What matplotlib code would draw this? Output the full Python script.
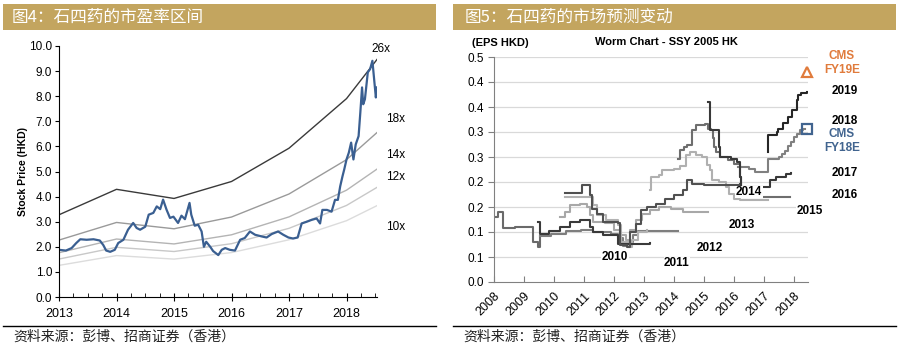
import matplotlib
matplotlib.use("Agg")
import matplotlib.pyplot as plt
from matplotlib.patches import Rectangle
from matplotlib.lines import Line2D
from matplotlib.ticker import FixedLocator, MultipleLocator, FormatStrFormatter

plt.rcParams['font.family'] = ['Liberation Sans', 'Noto Sans CJK SC', 'DejaVu Sans']

# ---------------- data: left panel ----------------
price_t = [2013.00, 2013.12, 2013.22, 2013.30, 2013.37, 2013.48, 2013.60, 2013.71, 2013.77, 2013.82,
           2013.89, 2013.97, 2014.03, 2014.12, 2014.20, 2014.29, 2014.35, 2014.41, 2014.50, 2014.56,
           2014.64, 2014.70, 2014.76, 2014.81, 2014.87, 2014.93, 2014.99, 2015.07, 2015.13, 2015.19,
           2015.27, 2015.30, 2015.36, 2015.42, 2015.48, 2015.52, 2015.56, 2015.63, 2015.68, 2015.77,
           2015.83, 2015.89, 2015.97, 2016.06, 2016.15, 2016.23, 2016.32, 2016.41, 2016.53, 2016.61,
           2016.70, 2016.81, 2016.90, 2016.99, 2017.07, 2017.15, 2017.22, 2017.31, 2017.39, 2017.48,
           2017.54, 2017.58, 2017.66, 2017.74, 2017.80, 2017.85, 2017.89, 2017.93, 2017.96, 2018.00,
           2018.04, 2018.08, 2018.12, 2018.16, 2018.21, 2018.24, 2018.27, 2018.29, 2018.32, 2018.37,
           2018.41, 2018.45, 2018.48, 2018.51, 2018.53]
price_v = [1.88, 1.85, 1.95, 2.15, 2.30, 2.28, 2.30, 2.25, 2.07, 1.85,
           1.80, 1.88, 2.15, 2.28, 2.68, 2.95, 2.75, 2.68, 2.80, 3.28,
           3.35, 3.61, 3.50, 3.88, 3.48, 3.15, 3.20, 2.95, 3.24, 3.10,
           3.75, 3.28, 2.84, 2.88, 2.61, 2.00, 2.20, 2.00, 1.83, 1.67,
           1.88, 1.95, 1.88, 1.85, 2.28, 2.35, 2.61, 2.48, 2.41, 2.37,
           2.51, 2.61, 2.48, 2.37, 2.33, 2.37, 2.93, 3.00, 3.07, 3.13,
           2.93, 3.47, 3.47, 3.40, 3.87, 3.87, 4.41, 4.81, 5.08, 5.48,
           5.75, 6.15, 5.48, 6.08, 6.41, 7.35, 8.35, 7.68, 7.88, 8.95,
           9.08, 9.41, 8.68, 7.95, 8.35]
eps_t = [2013.0, 2014.0, 2015.0, 2016.0, 2017.0, 2018.0, 2018.53]
eps_v = [0.126, 0.165, 0.151, 0.177, 0.228, 0.304, 0.364]
pe_multiples = [26, 18, 14, 12, 10]
pe_labels = ['26x', '18x', '14x', '12x', '10x']
left_xticks = [2013, 2014, 2015, 2016, 2017, 2018]

# ---------------- data: right panel (worms) ----------------
w2009_x = [2008.00, 2008.12, 2008.31, 2008.70, 2009.05, 2009.31, 2009.46, 2009.52]
w2009_y = [0.131, 0.141, 0.108, 0.111, 0.110, 0.081, 0.070, 0.092]
w2010_x = [2009.47, 2009.52, 2009.85, 2010.20, 2010.53, 2010.87, 2011.20, 2011.31, 2011.64, 2012.14, 2013.20]
w2010_y = [0.121, 0.097, 0.103, 0.111, 0.121, 0.124, 0.111, 0.101, 0.094, 0.077, 0.079]
w2011_x = [2009.55, 2009.90, 2010.40, 2010.90, 2011.30, 2011.90, 2012.15, 2012.30, 2012.50, 2012.62, 2012.80, 2014.14]
w2011_y = [0.092, 0.097, 0.102, 0.105, 0.100, 0.097, 0.088, 0.072, 0.080, 0.095, 0.102, 0.102]
w2012_x = [2010.20, 2010.37, 2010.53, 2010.87, 2011.10, 2011.20, 2011.31, 2011.70, 2012.00, 2012.20, 2012.40,
           2012.55, 2012.75, 2012.95, 2013.20, 2013.50, 2013.90, 2014.30, 2015.13]
w2012_y = [0.131, 0.141, 0.154, 0.157, 0.150, 0.135, 0.121, 0.118, 0.105, 0.095, 0.085,
           0.105, 0.124, 0.137, 0.144, 0.151, 0.147, 0.141, 0.141]
w2013_x = [2010.37, 2010.92, 2011.20, 2011.28, 2011.45, 2011.65, 2012.14, 2012.20, 2012.45, 2012.55, 2012.75,
           2012.90, 2013.10, 2013.40, 2013.70, 2014.00, 2014.30, 2014.45, 2014.60, 2015.00, 2016.20]
w2013_y = [0.179, 0.194, 0.175, 0.147, 0.137, 0.121, 0.119, 0.075, 0.070, 0.100, 0.117,
           0.144, 0.151, 0.157, 0.167, 0.174, 0.184, 0.204, 0.197, 0.195, 0.197]
w2014_x = [2010.37, 2011.20, 2011.30, 2011.45, 2011.75, 2012.15, 2012.25, 2012.50, 2012.60, 2012.80, 2013.10]
w2014_y = [0.171, 0.171, 0.155, 0.135, 0.125, 0.115, 0.080, 0.070, 0.085, 0.100, 0.105]
w2015_x = [2013.20, 2013.25, 2013.50, 2013.60, 2014.00, 2014.20, 2014.40, 2014.55, 2014.75, 2014.95, 2015.10,
           2015.20, 2015.28, 2015.50, 2015.75, 2015.85, 2016.00, 2016.20, 2017.13]
w2015_y = [0.184, 0.211, 0.214, 0.224, 0.226, 0.232, 0.254, 0.261, 0.254, 0.250, 0.234,
           0.224, 0.204, 0.201, 0.191, 0.177, 0.167, 0.164, 0.164]
w2016_x = [2014.14, 2014.20, 2014.35, 2014.45, 2014.60, 2014.75, 2014.90, 2015.05, 2015.12, 2015.25, 2015.30,
           2015.35, 2015.40, 2015.55, 2015.80, 2016.00, 2016.20, 2016.25, 2017.87]
w2016_y = [0.247, 0.264, 0.270, 0.274, 0.304, 0.314, 0.314, 0.317, 0.307, 0.304, 0.288,
           0.271, 0.261, 0.251, 0.244, 0.237, 0.211, 0.171, 0.171]
w2017_x = [2015.14, 2015.20, 2015.45, 2015.50, 2015.55, 2015.90, 2016.10, 2016.20, 2016.25, 2017.14, 2017.20,
           2017.40, 2017.75, 2017.90]
w2017_y = [0.360, 0.304, 0.304, 0.271, 0.251, 0.247, 0.241, 0.211, 0.190, 0.190, 0.204,
           0.211, 0.217, 0.218]
w2018_x = [2016.13, 2016.50, 2016.70, 2017.13, 2017.15, 2017.50, 2017.60, 2017.70, 2017.80, 2017.90, 2018.00,
           2018.10, 2018.20, 2018.30, 2018.37]
w2018_y = [0.231, 0.226, 0.221, 0.221, 0.247, 0.250, 0.256, 0.262, 0.272, 0.281, 0.290,
           0.297, 0.304, 0.307, 0.307]
w2019_x = [2017.14, 2017.15, 2017.42, 2017.48, 2017.65, 2017.81, 2017.92, 2018.09, 2018.14, 2018.25, 2018.42]
w2019_y = [0.261, 0.294, 0.300, 0.307, 0.318, 0.331, 0.344, 0.364, 0.374, 0.379, 0.381]
cms_fy19e = 0.420
cms_fy18e = 0.306
right_xticks = list(range(2008, 2019))
right_yticks = [0.0, 0.05, 0.10, 0.15, 0.20, 0.25, 0.30, 0.35, 0.40, 0.45]
right_yticklabels = ['0.0', '0.1', '0.1', '0.2', '0.2', '0.3', '0.3', '0.4', '0.4', '0.5']

GOLD = '#C3A55F'
fig = plt.figure(figsize=(8.99, 3.52), dpi=100)
W, H = 899.0, 352.0

def fx(px):
    return px / W

def fy(py):
    return 1 - py / H

# header bars
fig.patches.append(Rectangle((fx(3), fy(30)), fx(433), 26 / H, transform=fig.transFigure,
                             facecolor=GOLD, edgecolor='none'))
fig.patches.append(Rectangle((fx(453), fy(30)), fx(443), 26 / H, transform=fig.transFigure,
                             facecolor=GOLD, edgecolor='none'))
cjk = ['Noto Sans CJK SC', 'DejaVu Sans']
fig.text(fx(12), fy(17), '图4：石四药的市盈率区间', color='white', fontsize=12, family=cjk, va='center')
fig.text(fx(465), fy(17), '图5：石四药的市场预测变动', color='white', fontsize=12, family=cjk, va='center')

# footers
fig.add_artist(Line2D([fx(3), fx(436)], [fy(326), fy(326)], color='black', lw=1.0, transform=fig.transFigure))
fig.add_artist(Line2D([fx(453), fx(896)], [fy(326), fy(326)], color='black', lw=1.0, transform=fig.transFigure))
fig.text(fx(13), fy(337), '资料来源：彭博、招商证券（香港）', fontsize=10, family=cjk, va='center', color='#222222')
fig.text(fx(463), fy(337), '资料来源：彭博、招商证券（香港）', fontsize=10, family=cjk, va='center', color='#222222')

# ---------------- left panel ----------------
ax1 = fig.add_axes([fx(59), fy(297), fx(318), 251 / H])
pe_colors = ['#3a3a3a', '#9a9a9a', '#b4b4b4', '#c8c8c8', '#dcdcdc']
for m, c in zip(pe_multiples, pe_colors):
    ax1.plot(eps_t, [e * m for e in eps_v], color=c, lw=1.0)
ax1.plot(price_t, price_v, color='#3A5F91', lw=1.6)
ax1.set_xlim(2013, 2018.53)
ax1.set_ylim(0, 10)
ax1.xaxis.set_major_locator(FixedLocator(left_xticks))
ax1.xaxis.set_minor_locator(MultipleLocator(0.25))
ax1.xaxis.set_major_formatter(FormatStrFormatter('%d'))
ax1.yaxis.set_major_locator(MultipleLocator(1))
ax1.yaxis.set_major_formatter(FormatStrFormatter('%.1f'))
for s in ['top', 'right']:
    ax1.spines[s].set_visible(False)
ax1.tick_params(axis='y', direction='out', length=3, labelsize=8.5, pad=2)
ax1.tick_params(axis='x', which='major', direction='inout', length=6, labelsize=9, pad=5)
ax1.tick_params(axis='x', which='minor', direction='in', length=3)
ax1.set_ylabel('Stock Price (HKD)', fontsize=7.5, fontweight='bold', labelpad=1)
pe_label_y = [9.90, 7.10, 5.65, 4.80, 2.80]
pe_label_x = [2018.6, 2018.85, 2018.85, 2018.85, 2018.85]
for lab, xv, yv in zip(pe_labels, pe_label_x, pe_label_y):
    ax1.text(xv, yv, lab, fontsize=8.5, ha='center', va='center', clip_on=False)

# ---------------- right panel ----------------
ax2 = fig.add_axes([fx(494), fy(282), fx(314), 225 / H])
for yv in right_yticks[1:]:
    ax2.axhline(yv, color='#d9d9d9', lw=0.9, zorder=0)
worms = [
    (w2009_x, w2009_y, '#6a6a6a'),
    (w2011_x, w2011_y, '#7e7e7e'),
    (w2012_x, w2012_y, '#a8a8a8'),
    (w2014_x, w2014_y, '#b2b2b2'),
    (w2015_x, w2015_y, '#b0b0b0'),
    (w2010_x, w2010_y, '#3a3a3a'),
    (w2013_x, w2013_y, '#505050'),
    (w2016_x, w2016_y, '#6e6e6e'),
    (w2018_x, w2018_y, '#808080'),
    (w2017_x, w2017_y, '#383838'),
    (w2019_x, w2019_y, '#262626'),
]
for xs, ys, c in worms:
    ax2.plot(xs, ys, drawstyle='steps-post', color=c, lw=1.5)
ax2.set_xlim(2008, 2018.47)
ax2.set_ylim(0, 0.45)
ax2.set_xticks(right_xticks)
ax2.set_xticklabels([str(y) for y in right_xticks], rotation=45, ha='right', rotation_mode='anchor', fontsize=9)
ax2.set_yticks(right_yticks)
ax2.set_yticklabels(right_yticklabels, fontsize=8.5)
for s in ['top', 'right']:
    ax2.spines[s].set_visible(False)
for s in ['left', 'bottom']:
    ax2.spines[s].set_color('#808080')
ax2.tick_params(axis='y', direction='out', length=4, color='#808080', pad=3)
ax2.tick_params(axis='x', direction='in', length=4, color='#808080', pad=6)

bb = dict(facecolor='white', edgecolor='none', pad=0.3)
year_labels = [('2010', 2012.03, 0.050), ('2011', 2014.10, 0.038), ('2012', 2015.20, 0.068),
               ('2013', 2016.27, 0.114), ('2014', 2016.50, 0.180), ('2015', 2018.53, 0.142),
               ('2016', 2019.70, 0.174), ('2017', 2019.70, 0.218), ('2018', 2019.70, 0.322),
               ('2019', 2019.70, 0.382)]
for lab, xv, yv in year_labels:
    ax2.text(xv, yv, lab, fontsize=8.5, fontweight='bold', ha='center', va='center',
             clip_on=False, bbox=bb, zorder=5)
ax2.plot([2018.43], [cms_fy19e], marker='^', ms=7, mfc='none', mec='#E07B3C', mew=1.6, clip_on=False, zorder=6)
ax2.plot([2018.43], [cms_fy18e], marker='s', ms=7, mfc='none', mec='#41648F', mew=1.6, clip_on=False, zorder=6)
ax2.text(2019.6, 0.438, 'CMS\nFY19E', color='#E07B3C', fontsize=8.5, fontweight='bold', ha='center',
         va='center', linespacing=1.3, clip_on=False)
ax2.text(2019.6, 0.282, 'CMS\nFY18E', color='#41648F', fontsize=8.5, fontweight='bold', ha='center',
         va='center', linespacing=1.3, clip_on=False)
fig.text(fx(500), fy(43), '(EPS HKD)', fontsize=8, fontweight='bold', ha='center', va='center')
fig.text(fx(666), fy(42), 'Worm Chart - SSY 2005 HK', fontsize=8, fontweight='bold', ha='center', va='center')

fig.savefig('out.png', dpi=100)
